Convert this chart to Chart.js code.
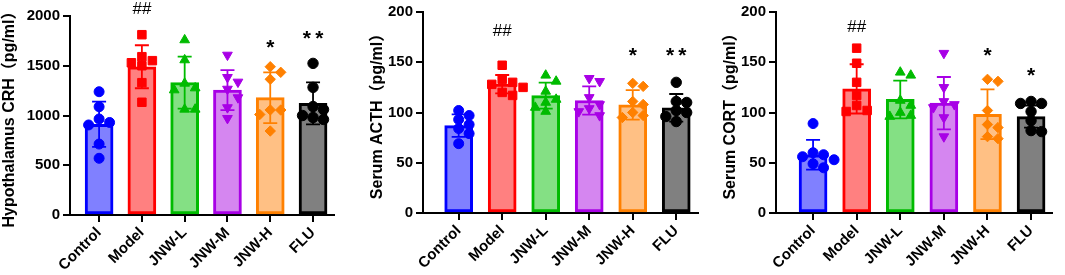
<!DOCTYPE html>
<html><head><meta charset="utf-8">
<script src="https://cdn.jsdelivr.net/npm/chart.js@4.4.1/dist/chart.umd.min.js"></script>
<style>
body{margin:0;background:#fff;width:1065px;height:275px;overflow:hidden;position:relative}
canvas{position:absolute;top:0}
</style></head>
<body>
<canvas id="c1" width="345" height="275" style="left:0px"></canvas>
<canvas id="c2" width="360" height="275" style="left:345px"></canvas>
<canvas id="c3" width="360" height="275" style="left:705px"></canvas>
<script>
// ---------- DATA ----------
const categories = ['Control', 'Model', 'JNW-L', 'JNW-M', 'JNW-H', 'FLU'];

const crhMeans = [912, 1490, 1330, 1256, 1179, 1122];
const crhSD    = [227, 216, 261, 201, 255, 211];
const crhPoints = [
  [1239, 1088, 965, 930, 905, 713, 570],
  [1812, 1591, 1551, 1530, 1500, 1330, 1133],
  [1759, 1558, 1323, 1276, 1256, 1062, 1062],
  [1608, 1384, 1337, 1266, 1180, 1080, 972],
  [1490, 1434, 1364, 1056, 1055, 1010, 844],
  [1524, 1283, 1090, 1060, 1000, 980, 960]
];
const crhSig = ['', '##', '', '', '*', '**'];
const crhSigLevel = [0, 2067, 0, 0, 1725, 1816];
const crhTicks = [0, 500, 1000, 1500, 2000];

const acthMeans = [87, 128.2, 116.8, 111.9, 107.6, 104.7];
const acthSD    = [11.2, 9.1, 13, 14, 14.7, 13.7];
const acthPoints = [
  [102, 97, 93, 88, 84, 79, 69],
  [147, 133, 130, 128, 125, 120, 117],
  [137, 131, 121, 113, 110, 105, 101],
  [134, 131, 115, 108, 104, 101, 97],
  [129, 126, 111, 108, 100, 97, 95],
  [130, 110, 111, 102, 100, 96, 91]
];
const acthSig = ['', '##', '', '', '*', '**'];
const acthSigLevel = [0, 180.7, 0, 0, 161, 161];
const acthTicks = [0, 50, 100, 150, 200];

const cortMeans = [57.9, 123.5, 113, 109.3, 98.3, 95.9];
const cortSD    = [14.8, 24.5, 18.8, 26, 24.7, 11];
const cortPoints = [
  [89, 60, 58, 56, 53, 49, 45],
  [164, 149, 130, 117, 107, 102, 101],
  [140, 137, 112, 107, 100, 97, 96],
  [159, 125, 111, 108, 105, 95, 76],
  [133, 131, 102, 88, 85, 76, 74],
  [111, 109, 109, 101, 92, 82, 81]
];
const cortSig = ['', '##', '', '', '*', '*'];
const cortSigLevel = [0, 185, 0, 0, 161, 141.5];
const cortTicks = [0, 50, 100, 150, 200];

// ---------- STYLE ----------
const fills   = ['#8080FF', '#FF8080', '#84E084', '#D586F0', '#FFC084', '#808080'];
const borders = ['#0000FF', '#FF0000', '#00BB00', '#A800E6', '#FF8000', '#000000'];
const shapes  = ['circle', 'rect', 'triangle', 'triangle', 'rectRot', 'circle'];
const rotations = [0, 0, 0, 180, 0, 0];
const radii   = [5, 6, 5.6, 5.6, 5.2, 5.2];
const FONT = "'Liberation Sans', Arial, 'Noto Sans CJK SC', sans-serif";

// simple beeswarm: horizontal offsets so points don't overlap (pixel units -> category units)
function swarm(vals, pxPerVal, pxPerCat) {
  const step = 10.5, d = 9;
  const placed = [];
  const order = vals.map((v, i) => i).sort((a, b) => vals[b] - vals[a]);
  const off = new Array(vals.length).fill(0);
  for (const i of order) {
    const yp = vals[i] * pxPerVal;
    for (let k = 0; k < 30; k++) {
      const o = (k === 0 ? 0 : (k % 2 ? 1 : -1) * Math.ceil(k / 2)) * step;
      if (placed.every(p => Math.hypot(p.x - o, p.y - yp) >= d)) {
        placed.push({x: o, y: yp});
        off[i] = o / pxPerCat;
        break;
      }
    }
  }
  return off;
}

function makeChart(id, cfg) {
  const ctx = document.getElementById(id).getContext('2d');
  const pxPerVal = cfg.plotH / cfg.ticks[cfg.ticks.length - 1];
  const datasets = [{
    type: 'bar',
    data: cfg.means.map((m, i) => ({x: i, y: m})),
    backgroundColor: fills,
    borderColor: borders,
    borderWidth: 3,
    borderSkipped: false,
    barThickness: 28,
    order: 3
  }];
  cfg.points.forEach((vals, i) => {
    const off = swarm(vals, pxPerVal, cfg.catW);
    datasets.push({
      type: 'scatter',
      data: vals.map((v, j) => ({x: i + off[j], y: v})),
      pointStyle: shapes[i],
      rotation: rotations[i],
      pointRadius: radii[i],
      pointBackgroundColor: borders[i],
      pointBorderColor: borders[i],
      pointBorderWidth: 1,
      order: 1
    });
  });
  const overlay = {
    id: 'overlay' + id,
    afterDatasetDraw(chart, args) {
      if (args.index !== 0) return;
      const xs = chart.scales.x, ys = chart.scales.y, c = chart.ctx;
      c.save();
      cfg.means.forEach((m, i) => {
        const px = xs.getPixelForValue(i);
        const top = ys.getPixelForValue(m + cfg.sd[i]);
        const bot = ys.getPixelForValue(m - cfg.sd[i]);
        c.strokeStyle = borders[i];
        c.lineWidth = 1.8;
        c.beginPath();
        c.moveTo(px, top); c.lineTo(px, bot);
        c.moveTo(px - 7, top); c.lineTo(px + 7, top);
        c.moveTo(px - 7, bot); c.lineTo(px + 7, bot);
        c.stroke();
      });
      c.restore();
    },
    afterDraw(chart) {
      const xs = chart.scales.x, ys = chart.scales.y, c = chart.ctx;
      c.save();
      c.fillStyle = '#000';
      c.textAlign = 'center';
      c.textBaseline = 'middle';
      cfg.sig.forEach((s, i) => {
        if (!s) return;
        const px = xs.getPixelForValue(i);
        let py = ys.getPixelForValue(cfg.sigLevel[i]);
        if (s[0] === '*') {
          c.font = 'bold 21px ' + FONT;
          py += 5;
          c.fillText(s.split('').join('\u2009'), px, py);
        } else {
          c.font = '17px ' + FONT;
          c.fillText(s, px, py);
        }
      });
      c.restore();
    }
  };
  return new Chart(ctx, {
    type: 'bar',
    data: {datasets},
    plugins: [overlay],
    options: {
      responsive: false,
      animation: false,
      devicePixelRatio: 1,
      layout: {padding: {left: cfg.padL, right: cfg.padR, top: cfg.padT, bottom: 0}},
      plugins: {legend: {display: false}, tooltip: {enabled: false}},
      scales: {
        x: {
          type: 'linear',
          min: cfg.xMin, max: cfg.xMax,
          offset: false,
          z: 1,
          afterBuildTicks: s => { s.ticks = categories.map((_, i) => ({value: i})); },
          afterFit: s => { s.height = cfg.xH; },
          grid: {display: true, drawOnChartArea: false, drawTicks: true, tickLength: 7, color: '#000', lineWidth: 2, offset: false},
          border: {display: true, color: '#000', width: 2},
          ticks: {
            autoSkip: false, minRotation: 45, maxRotation: 45, padding: 2,
            color: '#000', font: {family: FONT, size: 15, weight: 'bold'},
            callback: v => categories[v]
          }
        },
        y: {
          min: 0, max: cfg.ticks[cfg.ticks.length - 1],
          afterBuildTicks: s => { s.ticks = cfg.ticks.map(v => ({value: v})); },
          afterFit: s => { s.width = cfg.yW; },
          grid: {display: true, drawOnChartArea: false, drawTicks: true, tickLength: 7, color: '#000', lineWidth: 2},
          border: {display: true, color: '#000', width: 2},
          ticks: {padding: 3, color: '#000', font: {family: FONT, size: 15, weight: 'bold'},
                  callback: v => String(v)},
          title: {display: true, text: cfg.title, color: '#000', padding: {top: 0, bottom: 0},
                  font: {family: FONT, size: 16, weight: 'bold'}}
        }
      }
    }
  });
}

makeChart('c1', {
  means: crhMeans, sd: crhSD, points: crhPoints, sig: crhSig, sigLevel: crhSigLevel, ticks: crhTicks,
  title: 'Hypothalamus CRH（pg/ml）',
  padL: 0, yW: 70, padR: 11, padT: 16, xH: 60, xMin: -0.68, xMax: 5.49, plotH: 199, catW: 42.8
});
makeChart('c2', {
  means: acthMeans, sd: acthSD, points: acthPoints, sig: acthSig, sigLevel: acthSigLevel, ticks: acthTicks,
  title: 'Serum ACTH（pg/ml）',
  padL: 23, yW: 55, padR: 5, padT: 8, xH: 62, xMin: -0.82, xMax: 5.5, plotH: 205, catW: 43.8
});
makeChart('c3', {
  means: cortMeans, sd: cortSD, points: cortPoints, sig: cortSig, sigLevel: cortSigLevel, ticks: cortTicks,
  title: 'Serum CORT（pg/ml）',
  padL: 16, yW: 55, padR: 13, padT: 8, xH: 62, xMin: -0.85, xMax: 5.48, plotH: 205, catW: 43.6
});
</script>
</body></html>
